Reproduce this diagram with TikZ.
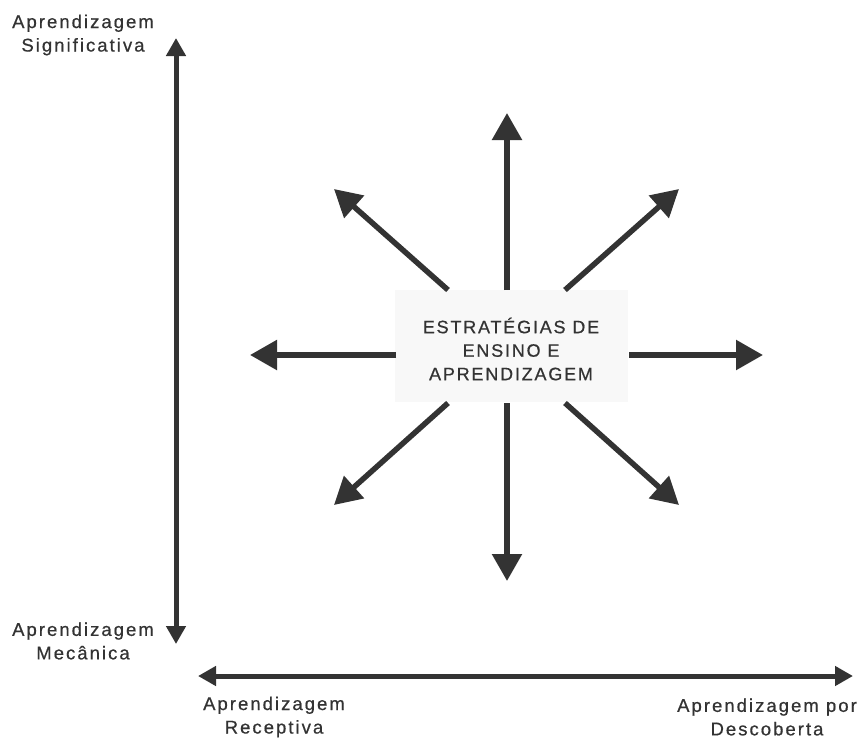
\documentclass[tikz,border=0pt]{standalone}
\usepackage{fontspec}
\setmainfont{Liberation Sans}[LetterSpace=11,FakeBold=0.6]
\usetikzlibrary{arrows.meta}
\definecolor{ink}{HTML}{333333}
\definecolor{boxfill}{HTML}{F8F8F8}
\begin{document}
\begin{tikzpicture}[x=1pt,y=-1pt,
  axis/.style={draw=ink,line width=5pt,{Triangle[length=18pt,width=19pt]}-{Triangle[length=18pt,width=19pt]}},
  ray/.style={draw=ink,line width=5.5pt,-{Triangle[length=27pt,width=29pt]}},
  label/.style={text=ink,align=center,inner sep=0pt,font=\fontsize{18.5}{23.5}\selectfont},
  core/.style={fill=boxfill,draw=none,minimum width=233pt,minimum height=112pt,inner sep=0pt}
]
\useasboundingbox (0,0) rectangle (865,740);

% axes
\coordinate (vtop) at (176,38);
\coordinate (vbot) at (176,644);
\coordinate (hleft) at (198,676);
\coordinate (hright) at (853,676);
\draw[axis] (vtop) -- (vbot);
\draw[axis] (hleft) -- (hright);

% axis labels
\node[label] (sig) at (83,35) {Aprendizagem\\Significativa};
\node[label] (mec) at (83,641) {Aprendizagem\\Mecânica};
\node[label] (rec) at (274,717) {Aprendizagem\\Receptiva};
\node[label] (desc) at (767,717) {Aprendizagem por\\Descoberta};

% central box
\node[core] (box) at (511.5,346) {};
\node[label,font=\fontsize{18}{23.5}\selectfont\addfontfeature{LetterSpace=10}] (title) at (511,349) {ESTRATÉGIAS DE\\ENSINO E\\APRENDIZAGEM};

% ray start points on the box edges and their tips
\coordinate (sN) at (507,290);   \coordinate (tN) at (507,113);
\coordinate (sS) at (507,403);   \coordinate (tS) at (507,581);
\coordinate (sW) at (396,355);   \coordinate (tW) at (250,355);
\coordinate (sE) at (629,355);   \coordinate (tE) at (763,355);
\coordinate (sNW) at (448,290);  \coordinate (tNW) at (334,189);
\coordinate (sNE) at (565,290);  \coordinate (tNE) at (679,189);
\coordinate (sSW) at (448,403);  \coordinate (tSW) at (334,505);
\coordinate (sSE) at (565,403);  \coordinate (tSE) at (679,505);

\foreach \d in {N,S,W,E,NW,NE,SW,SE}
  \draw[ray] (s\d) -- (t\d);
\end{tikzpicture}
\end{document}
